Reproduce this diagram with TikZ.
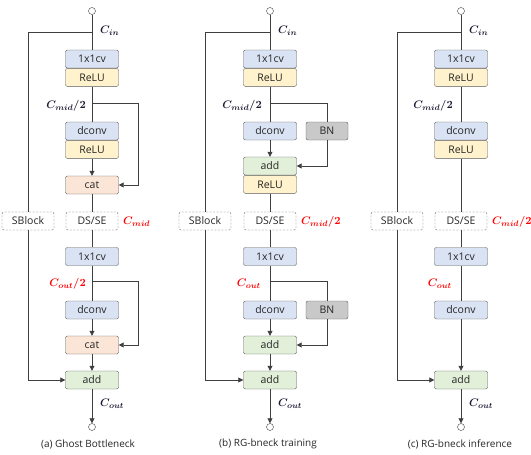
\documentclass[tikz,border=0pt]{standalone}
\usepackage{fontspec}
\setsansfont{Open Sans}
\usepackage{tikz}
\usetikzlibrary{arrows.meta,positioning}

\definecolor{convblue}{HTML}{DAE3F3}
\definecolor{reluyellow}{HTML}{FFF2CC}
\definecolor{catpeach}{HTML}{FBE5D6}
\definecolor{addgreen}{HTML}{E2F0D9}
\definecolor{bngray}{HTML}{C9C9C9}
\definecolor{boxline}{HTML}{5A5A5A}
\definecolor{lineg}{HTML}{3F3F3F}
\definecolor{lblnavy}{HTML}{1A1A33}

\begin{document}
\begin{tikzpicture}[x=1pt, y=-1pt,
  box/.style={draw=boxline, rounded corners=2pt, minimum width=53pt, minimum height=18pt, inner sep=0pt, text=black!85, font=\sffamily\fontsize{10.5}{12}\selectfont},
  conv/.style={box, fill=convblue},
  relu/.style={box, fill=reluyellow},
  catbox/.style={box, fill=catpeach},
  addbox/.style={box, fill=addgreen},
  bnbox/.style={box, fill=bngray, minimum width=42pt},
  opt/.style={box, dash pattern=on 2pt off 1.5pt, fill=white, minimum width=52pt},
  port/.style={draw=lineg, circle, fill=white, minimum size=7pt, inner sep=0pt},
  line/.style={draw=lineg, line width=0.8pt},
  arr/.style={line, -{Triangle[length=5pt, width=5pt]}},
  lbl/.style={font=\boldmath\fontsize{11}{12}\selectfont, text=lblnavy, inner sep=1pt},
  redlbl/.style={lbl, text=red},
  captxt/.style={font=\sffamily\fontsize{10}{12}\selectfont, text=black!85}
]
\useasboundingbox (0,0) rectangle (531,455);

% (a) Ghost Bottleneck
\node[port] (a-in) at (92,11) {};
\node[conv] (a-cv1) at (92,59) {1x1cv};
\node[relu, below=0pt of a-cv1] (a-re1) {ReLU};
\node[conv] (a-dc1) at (92,131) {dconv};
\node[relu, below=0pt of a-dc1] (a-re2) {ReLU};
\node[catbox] (a-cat1) at (92,185) {cat};
\node[opt] (a-ds) at (92,221) {DS/SE};
\node[opt] (a-sb) at (28,221) {SBlock};
\node[conv] (a-cv2) at (92,256.5) {1x1cv};
\node[conv] (a-dc2) at (92,310) {dconv};
\node[catbox] (a-cat2) at (92,345) {cat};
\node[addbox] (a-add) at (92,380) {add};
\node[port] (a-out) at (92,427) {};
\coordinate (a-s1) at (92,32);
\coordinate (a-s2) at (92,103);
\coordinate (a-r2) at (138,103);
\coordinate (a-s3) at (92,281);
\coordinate (a-r3) at (138,281);

\draw[line] (a-in) -- (a-cv1);
\draw[line] (a-s1) -| (a-sb);
\draw[line] (a-re1) -- (a-dc1);
\draw[arr] (a-s2) -- (a-r2) |- (a-cat1.east);
\draw[arr] (a-re2) -- (a-cat1);
\draw[line] (a-cat1) -- (a-ds);
\draw[line] (a-ds) -- (a-cv2);
\draw[line] (a-cv2) -- (a-dc2);
\draw[arr] (a-s3) -- (a-r3) |- (a-cat2.east);
\draw[arr] (a-dc2) -- (a-cat2);
\draw[arr] (a-cat2) -- (a-add);
\draw[arr] (a-sb) |- (a-add);
\draw[arr] (a-add) -- (a-out);

\node[lbl, anchor=west] (a-cin) at (99,31) {$C_{in}$};
\node[lbl, anchor=east] (a-cm) at (87,106) {$C_{mid}/2$};
\node[redlbl, anchor=west] (a-cmid) at (122,222) {$C_{mid}$};
\node[redlbl, anchor=east] (a-co2) at (87,284) {$C_{out}/2$};
\node[lbl, anchor=west] (a-cout) at (99,404) {$C_{out}$};
\node[captxt] (a-cap) at (88,444) {(a) Ghost Bottleneck};

% (b) RG-bneck training
\node[port] (b-in) at (270,11) {};
\node[conv] (b-cv1) at (270,59) {1x1cv};
\node[relu, below=0pt of b-cv1] (b-re1) {ReLU};
\node[conv] (b-dc1) at (270,131) {dconv};
\node[bnbox] (b-bn1) at (327,131) {BN};
\node[addbox] (b-add1) at (270,166) {add};
\node[relu, below=0pt of b-add1] (b-re2) {ReLU};
\node[opt] (b-ds) at (270,221) {DS/SE};
\node[opt] (b-sb) at (205,221) {SBlock};
\node[conv] (b-cv2) at (270,256.5) {1x1cv};
\node[conv] (b-dc2) at (270,310) {dconv};
\node[bnbox] (b-bn2) at (327,310) {BN};
\node[addbox] (b-add2) at (270,345) {add};
\node[addbox] (b-add3) at (270,380) {add};
\node[port] (b-out) at (270,427) {};
\coordinate (b-s1) at (270,32);
\coordinate (b-s2) at (270,103);
\coordinate (b-r2) at (327,103);
\coordinate (b-s3) at (270,281);
\coordinate (b-r3) at (327,281);

\draw[line] (b-in) -- (b-cv1);
\draw[line] (b-s1) -| (b-sb);
\draw[line] (b-re1) -- (b-dc1);
\draw[line] (b-s2) -- (b-r2) -- (b-bn1);
\draw[arr] (b-dc1) -- (b-add1);
\draw[arr] (b-bn1) |- (b-add1.east);
\draw[line] (b-re2) -- (b-ds);
\draw[line] (b-ds) -- (b-cv2);
\draw[line] (b-cv2) -- (b-dc2);
\draw[line] (b-s3) -- (b-r3) -- (b-bn2);
\draw[arr] (b-dc2) -- (b-add2);
\draw[arr] (b-bn2) |- (b-add2.east);
\draw[arr] (b-add2) -- (b-add3);
\draw[arr] (b-sb) |- (b-add3);
\draw[arr] (b-add3) -- (b-out);

\node[lbl, anchor=west] (b-cin) at (277,31) {$C_{in}$};
\node[lbl, anchor=east] (b-cm) at (263,106) {$C_{mid}/2$};
\node[redlbl, anchor=west] (b-cmid) at (300,222) {$C_{mid}/2$};
\node[redlbl, anchor=east] (b-co) at (262,284) {$C_{out}$};
\node[lbl, anchor=west] (b-cout) at (277,404) {$C_{out}$};
\node[captxt] (b-cap) at (268,444) {(b) RG-bneck training};

% (c) RG-bneck inference
\node[port] (c-in) at (461,11) {};
\node[conv] (c-cv1) at (461,59) {1x1cv};
\node[relu, below=0pt of c-cv1] (c-re1) {ReLU};
\node[conv] (c-dc1) at (461,131) {dconv};
\node[relu, below=0pt of c-dc1] (c-re2) {ReLU};
\node[opt] (c-ds) at (461,221) {DS/SE};
\node[opt] (c-sb) at (397,221) {SBlock};
\node[conv] (c-cv2) at (461,256.5) {1x1cv};
\node[conv] (c-dc2) at (461,310) {dconv};
\node[addbox] (c-add) at (461,380) {add};
\node[port] (c-out) at (461,427) {};
\coordinate (c-s1) at (461,32);

\draw[line] (c-in) -- (c-cv1);
\draw[line] (c-s1) -| (c-sb);
\draw[line] (c-re1) -- (c-dc1);
\draw[line] (c-re2) -- (c-ds);
\draw[line] (c-ds) -- (c-cv2);
\draw[line] (c-cv2) -- (c-dc2);
\draw[arr] (c-dc2) -- (c-add);
\draw[arr] (c-sb) |- (c-add);
\draw[arr] (c-add) -- (c-out);

\node[lbl, anchor=west] (c-cin) at (468,31) {$C_{in}$};
\node[lbl, anchor=east] (c-cm) at (454,106) {$C_{mid}/2$};
\node[redlbl, anchor=west] (c-cmid) at (491,222) {$C_{mid}/2$};
\node[redlbl, anchor=east] (c-co) at (453,284) {$C_{out}$};
\node[lbl, anchor=west] (c-cout) at (468,404) {$C_{out}$};
\node[captxt] (c-cap) at (460,444) {(c) RG-bneck inference};

\end{tikzpicture}
\end{document}
